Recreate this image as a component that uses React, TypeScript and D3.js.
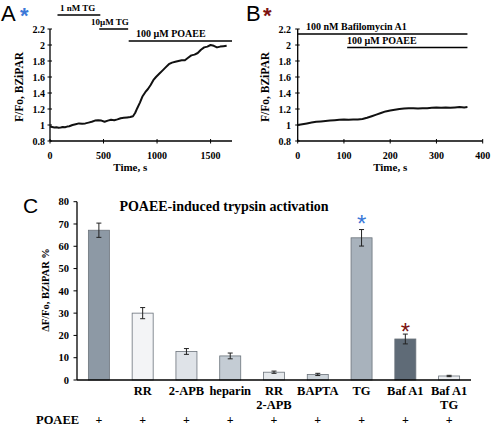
import React from "react";
import * as d3 from "d3";

// Panel A trace (time s, F/Fo)
const traceA: [number, number][] = [
  [0, 0.98], [20, 0.975], [40, 0.97], [60, 0.972], [80, 0.965], [100, 0.968], [120, 0.975], [140, 0.972], [160, 0.98], [180, 0.985],
  [210, 1.0], [240, 1.01], [270, 1.02], [300, 1.015], [330, 1.02], [360, 1.03], [390, 1.04],
  [420, 1.055], [450, 1.06], [480, 1.055], [510, 1.04], [540, 1.055], [570, 1.065], [600, 1.06],
  [630, 1.07], [660, 1.085], [690, 1.09], [720, 1.095], [750, 1.1], [775, 1.11], [795, 1.15],
  [815, 1.21], [840, 1.28], [865, 1.36], [890, 1.41], [915, 1.45], [940, 1.5], [965, 1.56],
  [990, 1.6], [1020, 1.64], [1050, 1.68], [1080, 1.72], [1110, 1.76], [1140, 1.78], [1170, 1.79],
  [1200, 1.8], [1230, 1.81], [1260, 1.81], [1290, 1.84], [1320, 1.87], [1350, 1.88], [1380, 1.9],
  [1410, 1.94], [1440, 1.97], [1470, 1.98], [1500, 2.0], [1530, 1.99], [1560, 1.97], [1590, 1.98],
  [1620, 1.985], [1650, 1.99],
];
// Panel B trace
const traceB: [number, number][] = [
  [0, 1.0], [10, 1.01], [20, 1.02], [30, 1.03], [40, 1.04], [50, 1.045], [60, 1.05], [70, 1.055],
  [80, 1.06], [90, 1.065], [100, 1.07], [110, 1.065], [120, 1.07], [130, 1.07], [140, 1.075],
  [150, 1.09], [160, 1.11], [170, 1.13], [180, 1.15], [190, 1.17], [200, 1.18], [210, 1.19],
  [220, 1.2], [230, 1.205], [240, 1.21], [250, 1.21], [260, 1.205], [270, 1.21], [280, 1.21],
  [290, 1.215], [300, 1.22], [310, 1.215], [320, 1.22], [330, 1.215], [340, 1.22], [350, 1.225],
  [360, 1.22], [367, 1.225],
];
const yTicksAB = [0.8, 1, 1.2, 1.4, 1.6, 1.8, 2, 2.2];
const xTicksA = [0, 500, 1000, 1500];
const xTicksB = [0, 100, 200, 300, 400];
// treatment bars [label, start, end]
const barsA: [string, number, number][] = [
  ["1 nM TG", 70, 470],
  ["10\u00b5M TG", 460, 730],
  ["100 \u00b5M POAEE", 735, 1700],
];
const barsB: [string, number, number][] = [
  ["100 nM Bafilomycin A1", 0, 367],
  ["100 \u00b5M POAEE", 107, 367],
];

// Panel C
const catLine1 = ["", "RR", "2-APB", "heparin", "RR", "BAPTA", "TG", "Baf A1", "Baf A1"];
const catLine2 = ["", "", "", "", "2-APB", "", "", "", "TG"];
const values = [67.2, 30, 12.8, 10.8, 3.5, 2.5, 63.8, 18.4, 1.8];
const errors = [3.2, 2.5, 1.3, 1.3, 0.5, 0.5, 3.7, 2.2, 0.3];
const barColors = ["#8d99a5", "#f3f4f6", "#dfe3e8", "#c4ccd4", "#e6e9ec", "#cdd4da", "#a8b2bc", "#5f6b77", "#eceef1"];
const yTicksC = [0, 10, 20, 30, 40, 50, 60, 70, 80];

const serif = "'Liberation Serif', 'Times New Roman', serif";
const sans = "'Liberation Sans', Arial, sans-serif";

function Trace({ data, x, y, xTicks, yTicks, barDefs, yLabelX, tickLabelX }: any) {
  const line = d3.line<[number, number]>().x((d) => x(d[0])).y((d) => y(d[1])).curve(d3.curveLinear);
  const [x0, x1] = x.range();
  const [y0, y1] = y.range();
  return (
    <g>
      <line x1={x0} x2={x1} y1={y0} y2={y0} stroke="#000" strokeWidth={1.3} />
      <line x1={x0} x2={x0} y1={y0} y2={y1} stroke="#000" strokeWidth={1.3} />
      {yTicks.map((t: number) => (
        <g key={"y" + t}>
          <line x1={x0 - 2.5} x2={x0 + 2} y1={y(t)} y2={y(t)} stroke="#000" strokeWidth={1} />
          <text x={tickLabelX} y={y(t)} dy="0.35em" textAnchor="end" fontFamily={serif} fontWeight="bold" fontSize={10}>
            {t === 1 || t === 2 ? String(t) : t.toFixed(1)}
          </text>
        </g>
      ))}
      {xTicks.map((t: number) => (
        <g key={"x" + t}>
          <line x1={x(t)} x2={x(t)} y1={y0 - 2} y2={y0 + 2.5} stroke="#000" strokeWidth={1} />
          <text x={x(t)} y={158.5} textAnchor="middle" fontFamily={serif} fontWeight="bold" fontSize={10}>
            {t}
          </text>
        </g>
      ))}
      <text x={(x(0) + x(xTicks[xTicks.length - 1])) / 2} y={171} textAnchor="middle" fontFamily={serif} fontWeight="bold" fontSize={11}>
        Time, s
      </text>
      <text transform={`translate(${yLabelX},${(y0 + y1) / 2 + 2}) rotate(-90)`} textAnchor="middle" fontFamily={serif} fontWeight="bold" fontSize={11.5}>
        F/Fo, BZiPAR
      </text>
      <path d={line(data) || ""} fill="none" stroke="#111" strokeWidth={2} strokeLinejoin="round" />
      {barDefs.map((b: any, i: number) => (
        <g key={"b" + i}>
          <line x1={x(b.s)} x2={x(b.e)} y1={b.y} y2={b.y} stroke="#000" strokeWidth={1.5} />
          <text x={b.tx} y={b.y - 4} fontFamily={serif} fontWeight="bold" fontSize={b.fs}>
            {b.label}
          </text>
        </g>
      ))}
    </g>
  );
}

export default function App() {
  const xA = d3.scaleLinear().domain([0, 1700]).range([50, 232]);
  const yA = d3.scaleLinear().domain([0.8, 2.2]).range([141, 29]);
  const xB = d3.scaleLinear().domain([0, 400]).range([297.7, 482.7]);
  const yB = d3.scaleLinear().domain([0.8, 2.2]).range([141, 29]);

  const barDefsA = [
    { label: barsA[0][0], s: barsA[0][1], e: barsA[0][2], y: 15, tx: 60, fs: 9 },
    { label: barsA[1][0], s: barsA[1][1], e: barsA[1][2], y: 29, tx: 91, fs: 9 },
    { label: barsA[2][0], s: barsA[2][1], e: barsA[2][2], y: 41, tx: 136, fs: 10 },
  ];
  const barDefsB = [
    { label: barsB[0][0], s: barsB[0][1], e: barsB[0][2], y: 34, tx: 306, fs: 10 },
    { label: barsB[1][0], s: barsB[1][1], e: barsB[1][2], y: 47.5, tx: 347, fs: 10 },
  ];

  const xC = d3.scaleBand<number>().domain(values.map((_, i) => i)).range([77, 471]).paddingInner(0.52).paddingOuter(0.26);
  const yC = d3.scaleLinear().domain([0, 80]).range([380, 201.7]);
  const bw = xC.bandwidth();

  return (
    <svg width={492} height={426} style={{ position: "absolute", left: 0, top: 0, background: "#fff" }}>
      <rect x={0} y={0} width={492} height={426} fill="#fff" />
      {/* Panel A */}
      <text x={1} y={21} fontFamily={sans} fontSize={22}>A</text>
      <text x={20} y={23} fontFamily={sans} fontSize={22} fill="#3b78d8" fontWeight="bold">*</text>
      <Trace data={traceA} x={xA} y={yA} xTicks={xTicksA} yTicks={yTicksAB} barDefs={barDefsA} yLabelX={23} tickLabelX={45} />
      {/* Panel B */}
      <text x={246} y={21} fontFamily={sans} fontSize={22}>B</text>
      <text x={263} y={23} fontFamily={sans} fontSize={22} fill="#7d1212" fontWeight="bold">*</text>
      <Trace data={traceB} x={xB} y={yB} xTicks={xTicksB} yTicks={yTicksAB} barDefs={barDefsB} yLabelX={269} tickLabelX={291} />

      {/* Panel C */}
      <text x={23} y={213} fontFamily={sans} fontSize={21}>C</text>
      <text x={224} y={210.5} textAnchor="middle" fontFamily={serif} fontWeight="bold" fontSize={14}>
        POAEE-induced trypsin activation
      </text>
      {values.map((v, i) => {
        const x = xC(i)!;
        const cx = x + bw / 2;
        return (
          <g key={"c" + i}>
            <rect x={x} y={yC(v)} width={bw} height={yC(0) - yC(v)} fill={barColors[i]} stroke="#6b737b" strokeWidth={0.8} />
            <line x1={cx} x2={cx} y1={yC(v + errors[i])} y2={yC(v - errors[i])} stroke="#222" strokeWidth={1} />
            <line x1={cx - 2.5} x2={cx + 2.5} y1={yC(v + errors[i])} y2={yC(v + errors[i])} stroke="#222" strokeWidth={1} />
            <line x1={cx - 2.5} x2={cx + 2.5} y1={yC(v - errors[i])} y2={yC(v - errors[i])} stroke="#222" strokeWidth={1} />
            <text x={cx} y={395} textAnchor="middle" fontFamily={serif} fontWeight="bold" fontSize={12.5}>{catLine1[i]}</text>
            {catLine2[i] ? (
              <text x={cx} y={409} textAnchor="middle" fontFamily={serif} fontWeight="bold" fontSize={12.5}>{catLine2[i]}</text>
            ) : null}
            <text x={cx} y={424} textAnchor="middle" fontFamily={serif} fontWeight="bold" fontSize={12}>+</text>
          </g>
        );
      })}
      <text x={xC(6)! + bw / 2} y={232} textAnchor="middle" fontFamily={sans} fontSize={24} fill="#3b78d8">*</text>
      <text x={xC(7)! + bw / 2} y={340} textAnchor="middle" fontFamily={sans} fontSize={24} fill="#7d1212">*</text>
      <line x1={77} x2={471} y1={380} y2={380} stroke="#000" strokeWidth={1.3} />
      <line x1={77} x2={77} y1={380} y2={201.7} stroke="#000" strokeWidth={1.3} />
      {yTicksC.map((t) => (
        <g key={"yc" + t}>
          <line x1={73.5} x2={77} y1={yC(t)} y2={yC(t)} stroke="#000" strokeWidth={1} />
          <text x={69} y={yC(t)} dy="0.35em" textAnchor="end" fontFamily={serif} fontWeight="bold" fontSize={10.5}>{t}</text>
        </g>
      ))}
      <text transform={`translate(49,290) rotate(-90)`} textAnchor="middle" fontFamily={serif} fontWeight="bold" fontSize={10.5}>
        {"\u0394F/Fo, BZiPAR %"}
      </text>
      <text x={36} y={424} fontFamily={serif} fontWeight="bold" fontSize={12.5}>POAEE</text>
    </svg>
  );
}
